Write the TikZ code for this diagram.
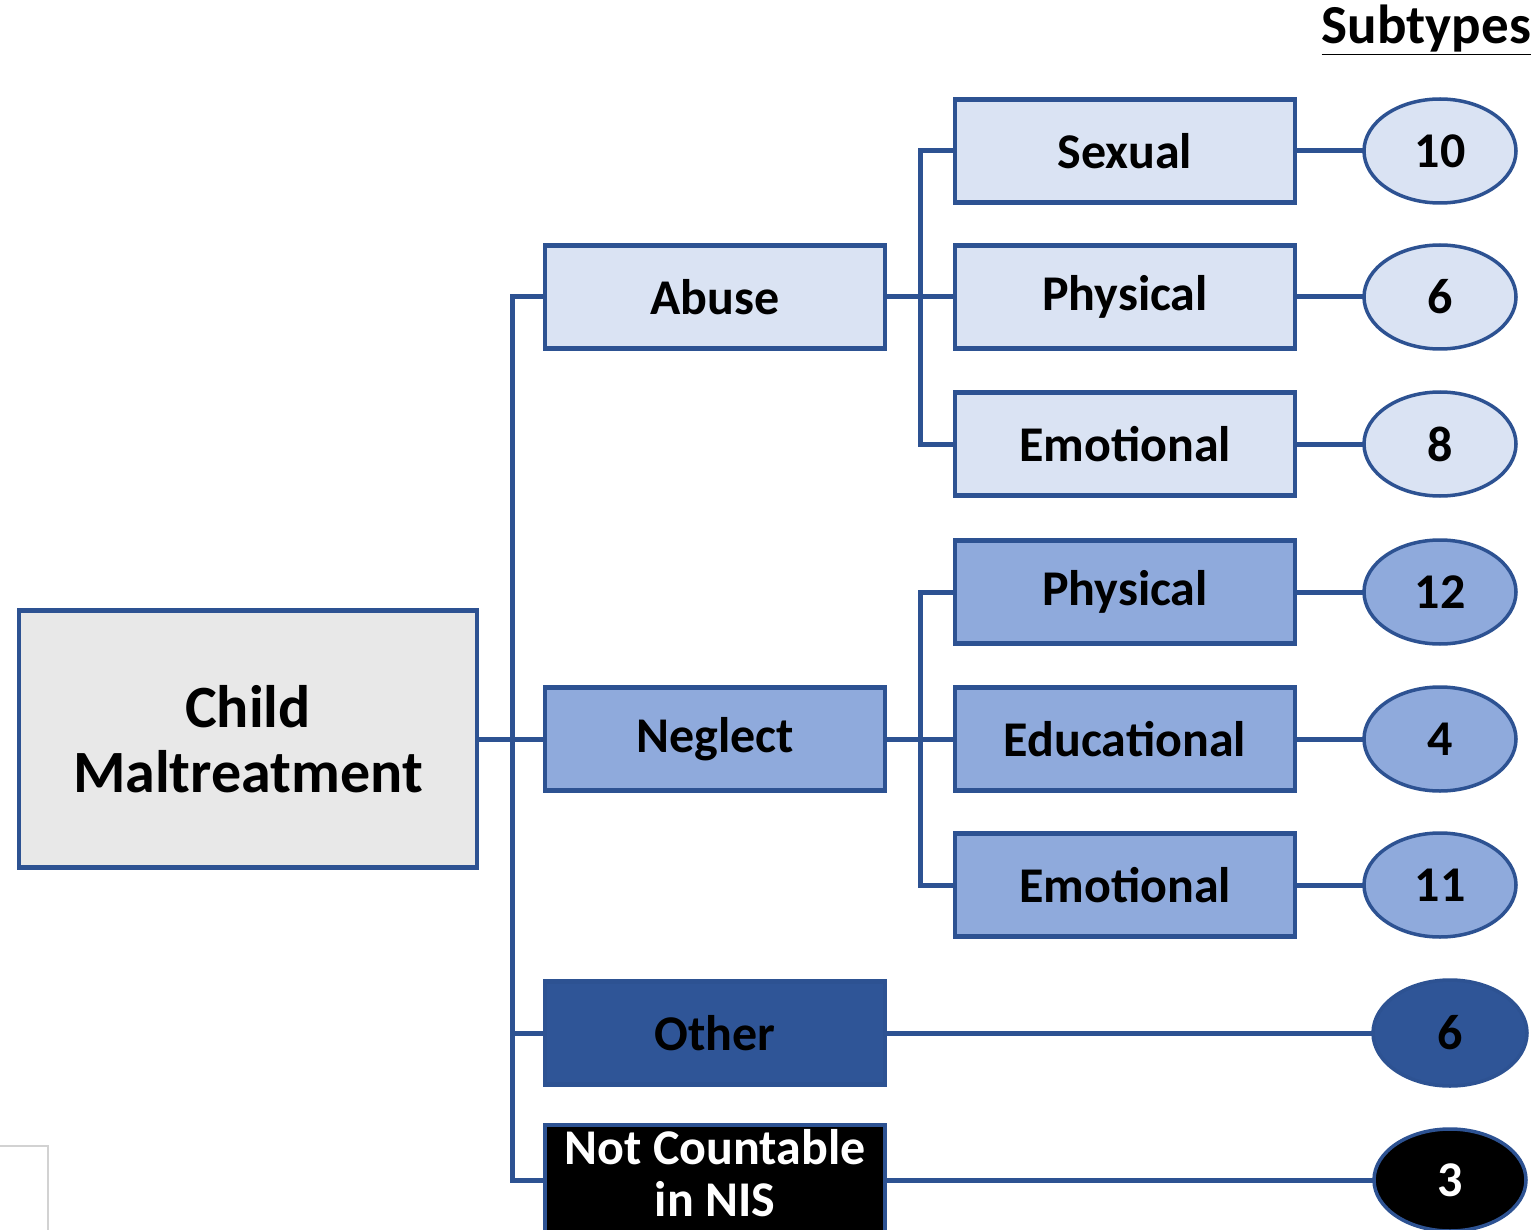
\documentclass[tikz,border=0pt]{standalone}
\usepackage{fontspec}
\setmainfont{Carlito}
\usetikzlibrary{shapes.geometric}
\definecolor{bord}{HTML}{2D5292}
\definecolor{lite}{HTML}{DAE3F3}
\definecolor{mid}{HTML}{8FAADC}
\definecolor{dark}{HTML}{2F5597}
\definecolor{rootfill}{HTML}{E8E8E8}
\begin{document}
\begin{tikzpicture}[x=1pt,y=-1pt,
  box/.style={rectangle,draw=bord,line width=4.5pt,inner sep=0pt,outer sep=0pt,
    minimum width=340,minimum height=103,font=\fontsize{50}{54}\selectfont\bfseries,align=center},
  oval/.style={ellipse,draw=bord,line width=3.5pt,inner sep=0pt,outer sep=0pt,
    minimum width=152,minimum height=104,font=\fontsize{50}{54}\selectfont\bfseries},
  conn/.style={draw=bord,line width=5pt}]
\useasboundingbox (0,0) rectangle (1531,1230);
\clip (0,0) rectangle (1531,1230);
% nodes
\node[box,fill=rootfill,minimum width=458,minimum height=257,font=\fontsize{60}{65}\selectfont\bfseries] (root) at (248,739) {Child\\Maltreatment};
\node[box,fill=lite] (abuse) at (715,297) {Abuse};
\node[box,fill=mid] (neglect) at (715,739) {Neglect};
\node[box,fill=dark] (other) at (715,1033) {Other};
\node[box,fill=black,text=white,minimum height=110] (nc) at (715,1180) {\raisebox{3pt}{\begin{tabular}{@{}c@{}}Not Countable\\[-2pt]in NIS\end{tabular}}};
\node[box,fill=lite] (sexual) at (1125,151) {Sexual};
\node[box,fill=lite] (aphys) at (1125,297) {Physical};
\node[box,fill=lite] (aemo) at (1125,444) {Emotional};
\node[box,fill=mid] (nphys) at (1125,592) {Physical};
\node[box,fill=mid] (nedu) at (1125,739) {Educational};
\node[box,fill=mid] (nemo) at (1125,885) {Emotional};
\node[oval,fill=lite] (e10) at (1440,151) {10};
\node[oval,fill=lite] (e6) at (1440,297) {6};
\node[oval,fill=lite] (e8) at (1440,444) {8};
\node[oval,fill=mid] (e12) at (1440,592) {12};
\node[oval,fill=mid] (e4) at (1440,739) {4};
\node[oval,fill=mid] (e11) at (1440,885) {11};
\node[oval,fill=dark,minimum width=154,minimum height=106] (eo) at (1450,1033) {6};
\node[oval,fill=black,text=white,minimum width=152,minimum height=102] (enc) at (1450,1180) {3};
\node[font=\fontsize{55}{60}\selectfont\bfseries,anchor=base east,inner sep=0pt] (subt) at (1531,44) {\underline{Subtypes}};
% trunk
\coordinate (tA) at (512,297);
\draw[conn] (abuse.west) -- (tA) |- (nc.west);
\draw[conn] (root.east) -- (neglect.west);
\draw[conn] (other.west) -- (other.west -| tA);
% abuse branch
\coordinate (bA) at (920,297);
\draw[conn] (sexual.west) -- (sexual.west -| bA) -- (aemo.west -| bA) -- (aemo.west);
\draw[conn] (abuse.east) -- (aphys.west);
% neglect branch
\draw[conn] (nphys.west) -- (nphys.west -| bA) -- (nemo.west -| bA) -- (nemo.west);
\draw[conn] (neglect.east) -- (nedu.west);
% to ovals
\draw[conn] (sexual.east) -- (e10.west);
\draw[conn] (aphys.east) -- (e6.west);
\draw[conn] (aemo.east) -- (e8.west);
\draw[conn] (nphys.east) -- (e12.west);
\draw[conn] (nedu.east) -- (e4.west);
\draw[conn] (nemo.east) -- (e11.west);
\draw[conn] (other.east) -- (eo.west);
\draw[conn] (nc.east) -- (enc.west);
% corner mark
\draw[gray!35,line width=2pt] (0,1146) -- (48,1146) -- (48,1230);
\end{tikzpicture}
\end{document}
